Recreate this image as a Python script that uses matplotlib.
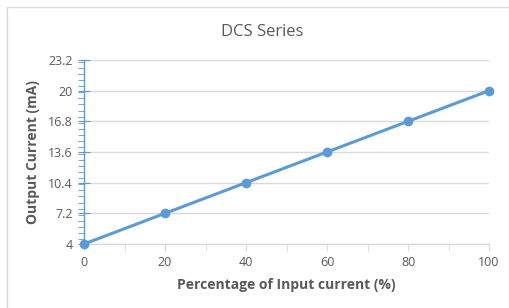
import matplotlib
matplotlib.use("Agg")
import matplotlib.pyplot as plt
from matplotlib.patches import Rectangle
from matplotlib.ticker import MultipleLocator

plt.rcParams["font.family"] = ["Open Sans", "DejaVu Sans"]

input_pct = [0, 20, 40, 60, 80, 100]
output_ma = [4, 7.2, 10.4, 13.6, 16.8, 20]
y_ticks = [4, 7.2, 10.4, 13.6, 16.8, 20, 23.2]
y_labels = ["4", "7.2", "10.4", "13.6", "16.8", "20", "23.2"]

_BLUE = "#5b9bd5"
_GRID = "#d9d9d9"
_TEXT = "#595959"

fig = plt.figure(figsize=(5.09, 3.08), dpi=100)
fig.patches.append(Rectangle((7 / 509, -0.1), 1.2, 1 - 7 / 308 + 0.1,
                             transform=fig.transFigure, fill=False,
                             edgecolor="#d9d9d9", linewidth=1.0))
ax = fig.add_axes([84 / 509, 1 - 244 / 308, 405 / 509, 184 / 308])

ax.plot(input_pct, output_ma, color=_BLUE, linewidth=2.2, marker="o",
        markersize=6, clip_on=False, zorder=5)

ax.set_xlim(0, 100)
ax.set_ylim(4, 23.2)
ax.set_yticks(y_ticks)
ax.set_yticklabels(y_labels)
ax.set_xticks(input_pct)
ax.xaxis.set_minor_locator(MultipleLocator(10))
ax.yaxis.set_minor_locator(MultipleLocator(0.64))

for s in ["top", "right"]:
    ax.spines[s].set_visible(False)
ax.spines["left"].set_color(_BLUE)
ax.spines["bottom"].set_color(_GRID)
ax.spines["left"].set_linewidth(1.0)
ax.spines["bottom"].set_linewidth(1.0)

ax.grid(axis="y", color=_GRID, linewidth=1.0)
ax.set_axisbelow(True)

ax.tick_params(axis="y", which="major", direction="inout", length=8,
               color=_BLUE, labelcolor=_TEXT, labelsize=9, pad=4)
ax.tick_params(axis="y", which="minor", direction="out", length=4, color=_BLUE)
ax.tick_params(axis="x", which="both", direction="out", length=5,
               color=_GRID, labelcolor=_TEXT, labelsize=9, pad=4)

# title sits centred on the chart frame, not the plot area
fig.text(262 / 509, 1 - 32 / 308, "DCS Series", fontsize=12, color=_TEXT,
         ha="center", va="center")
ax.set_xlabel("Percentage of Input current (%)", fontsize=10,
              fontweight="bold", color=_TEXT, labelpad=6)
ax.set_ylabel("Output Current (mA)", fontsize=10, fontweight="bold",
              color=_TEXT, labelpad=6)

fig.savefig("out.png", dpi=100)
